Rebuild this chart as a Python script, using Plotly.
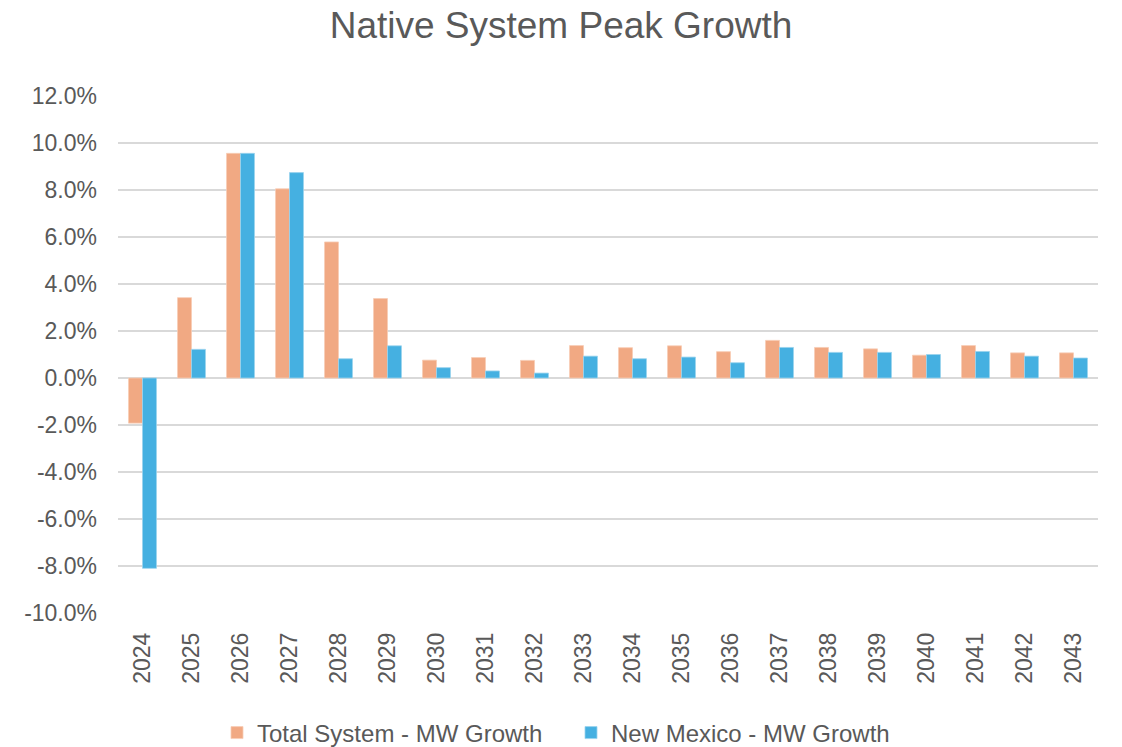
import plotly.graph_objects as go

years = [str(y) for y in range(2024, 2044)]
total_system = [-1.92, 3.42, 9.56, 8.05, 5.79, 3.38, 0.76, 0.87, 0.75, 1.38,
                1.29, 1.37, 1.12, 1.60, 1.30, 1.24, 0.97, 1.38, 1.07, 1.07]
new_mexico = [-8.10, 1.22, 9.56, 8.74, 0.82, 1.37, 0.44, 0.30, 0.21, 0.93,
              0.82, 0.89, 0.65, 1.30, 1.09, 1.09, 1.00, 1.13, 0.93, 0.85]
y_ticks = [-10, -8, -6, -4, -2, 0, 2, 4, 6, 8, 10, 12]
y_tick_text = [f"{v:.1f}%" for v in y_ticks]

font_family = "Liberation Sans, Arial, sans-serif"
text_color = "#595959"

fig = go.Figure()
fig.add_trace(go.Bar(x=years, y=total_system, name="Total System - MW Growth",
                     marker=dict(color="#F1A983", line=dict(color="#F8CDB5", width=0.8))))
fig.add_trace(go.Bar(x=years, y=new_mexico, name="New Mexico - MW Growth",
                     marker=dict(color="#45B0E1", line=dict(color="#9AD3EE", width=0.8))))

fig.update_layout(
    width=1122, height=747,
    margin=dict(l=118, r=24, t=96, b=134, autoexpand=False),
    paper_bgcolor="white", plot_bgcolor="white",
    barmode="group", bargap=0.43, bargroupgap=0,
    font=dict(family=font_family, color=text_color, size=22),
    title=dict(text="Native System Peak Growth", x=0.5, xanchor="center",
               y=1 - 25 / 747, yanchor="middle",
               font=dict(size=37, color=text_color, family=font_family)),
    legend=dict(orientation="h", xref="container", x=(561 + 10) / 1122, xanchor="center",
                yref="container", y=(747 - 733) / 747, yanchor="middle",
                font=dict(size=24, color=text_color), itemwidth=30,
                entrywidth=309, traceorder="normal"),
    showlegend=True,
)
fig.update_yaxes(range=[-10, 12], tickvals=y_ticks, ticktext=y_tick_text,
                 showgrid=True, gridcolor="#D9D9D9", gridwidth=1.5,
                 zeroline=False, showline=False, ticks="", ticklabelstandoff=20,
                 tickfont=dict(size=23))
fig.update_xaxes(tickangle=-90, showgrid=False, showline=False, ticks="",
                 ticklabelstandoff=14, tickfont=dict(size=23))

fig.write_html("out.html")
